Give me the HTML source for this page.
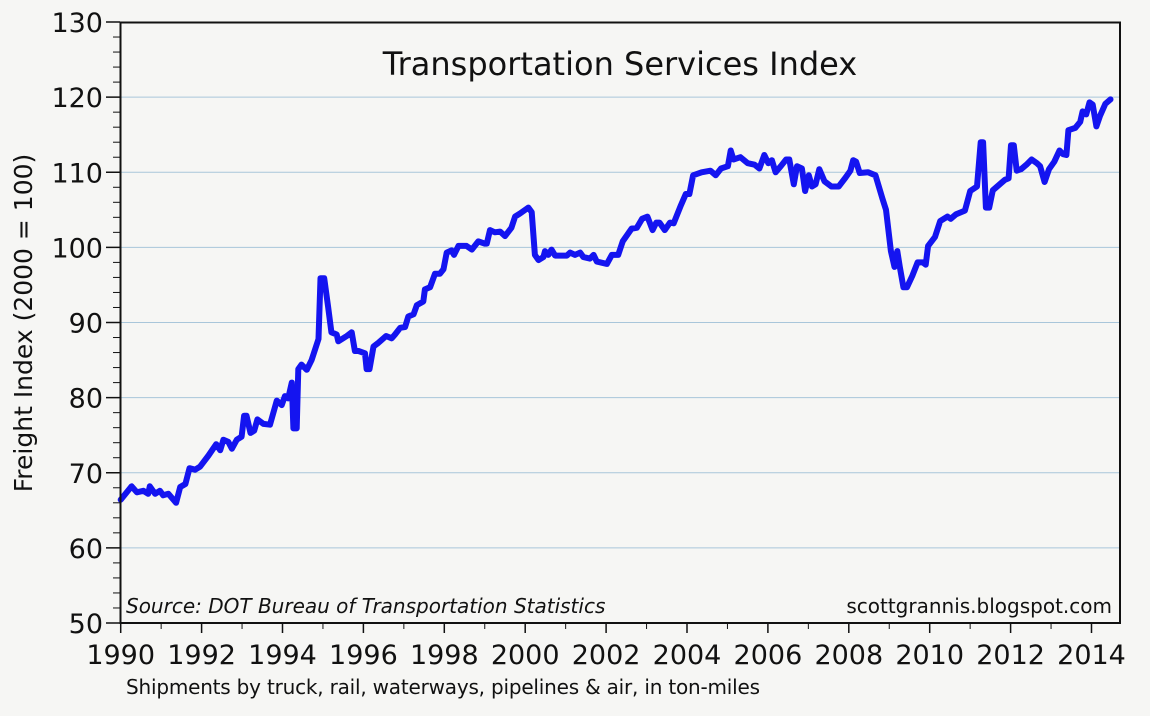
<!DOCTYPE html>
<html><head><meta charset="utf-8"><style>
html,body{margin:0;padding:0;background:#f6f6f4;}
svg{display:block;font-family:"DejaVu Sans","Liberation Sans",sans-serif;}
</style></head><body>
<svg id="chart" width="1150" height="716" viewBox="0 0 1150 716" xmlns="http://www.w3.org/2000/svg">
<rect x="0" y="0" width="1150" height="716" fill="#f6f6f4"/>
<g id="grid"></g>
<g id="axes"></g>
<path id="line" fill="none" stroke="#1414f0" stroke-width="6" stroke-linejoin="round" stroke-linecap="round"/>
<rect x="120.5" y="22.5" width="999.5" height="600.5" fill="none" stroke="#111" stroke-width="2"/>
<text x="620" y="75" font-size="32" text-anchor="middle" fill="#111">Transportation Services Index</text>
<text transform="translate(32,323) rotate(-90)" font-size="25" text-anchor="middle" fill="#111">Freight Index (2000 = 100)</text>
<text x="126" y="613" font-size="20" font-style="italic" fill="#111">Source: DOT Bureau of Transportation Statistics</text>
<text x="1112" y="613" font-size="20" text-anchor="end" fill="#111">scottgrannis.blogspot.com</text>
<text x="126" y="694" font-size="20" textLength="634" fill="#111">Shipments by truck, rail, waterways, pipelines &amp; air, in ton-miles</text>
</svg>
<script>
const years = [1990.0,1990.27,1990.4,1990.56,1990.68,1990.72,1990.85,1990.97,1991.05,1991.18,1991.37,1991.47,1991.6,1991.7,1991.84,1991.96,1992.17,1992.36,1992.46,1992.54,1992.66,1992.75,1992.87,1992.99,1993.05,1993.11,1993.21,1993.3,1993.38,1993.53,1993.69,1993.86,1993.98,1994.06,1994.14,1994.23,1994.27,1994.35,1994.39,1994.47,1994.6,1994.72,1994.89,1994.94,1995.03,1995.13,1995.21,1995.34,1995.38,1995.59,1995.71,1995.79,1995.88,1996.04,1996.08,1996.15,1996.25,1996.37,1996.56,1996.7,1996.78,1996.91,1997.03,1997.11,1997.24,1997.32,1997.48,1997.52,1997.65,1997.77,1997.89,1997.98,1998.06,1998.18,1998.24,1998.35,1998.55,1998.68,1998.84,1999.0,1999.05,1999.13,1999.25,1999.38,1999.5,1999.66,1999.75,1999.87,2000.08,2000.16,2000.24,2000.33,2000.45,2000.49,2000.57,2000.65,2000.74,2001.03,2001.11,2001.23,2001.36,2001.44,2001.6,2001.69,2001.77,2002.02,2002.14,2002.3,2002.41,2002.63,2002.76,2002.89,2003.02,2003.15,2003.24,2003.32,2003.45,2003.58,2003.67,2003.85,2003.97,2004.06,2004.15,2004.36,2004.58,2004.71,2004.84,2005.01,2005.08,2005.15,2005.32,2005.5,2005.67,2005.79,2005.91,2006.01,2006.1,2006.19,2006.32,2006.45,2006.53,2006.64,2006.72,2006.84,2006.92,2007.01,2007.09,2007.18,2007.27,2007.4,2007.57,2007.75,2007.92,2008.04,2008.11,2008.18,2008.27,2008.48,2008.66,2008.83,2008.92,2009.04,2009.13,2009.2,2009.26,2009.35,2009.44,2009.57,2009.7,2009.83,2009.9,2009.96,2010.13,2010.26,2010.44,2010.52,2010.65,2010.78,2010.87,2011.0,2011.17,2011.26,2011.32,2011.39,2011.47,2011.56,2011.73,2011.86,2011.95,2012.01,2012.08,2012.15,2012.26,2012.39,2012.52,2012.65,2012.73,2012.84,2012.95,2013.08,2013.21,2013.3,2013.38,2013.43,2013.6,2013.72,2013.78,2013.87,2013.95,2014.03,2014.12,2014.21,2014.34,2014.47];
const values = [66.4,68.2,67.4,67.6,67.2,68.2,67.2,67.6,67,67.2,66,68.1,68.5,70.6,70.4,70.8,72.3,73.8,73,74.4,74.1,73.2,74.4,74.8,77.6,77.6,75.3,75.6,77.1,76.5,76.4,79.6,79,80.2,79.9,82,75.9,75.9,83.8,84.4,83.7,85,87.8,95.9,95.9,92,88.7,88.4,87.5,88.2,88.7,86.2,86.2,85.9,83.8,83.8,86.8,87.3,88.2,87.9,88.4,89.3,89.4,90.8,91.1,92.3,92.8,94.4,94.7,96.5,96.5,97.1,99.3,99.6,99,100.2,100.2,99.7,100.8,100.5,100.5,102.3,102,102.1,101.5,102.6,104.1,104.5,105.3,104.7,99,98.3,98.7,99.5,99,99.7,98.9,98.9,99.3,99,99.3,98.7,98.5,99,98.1,97.8,99,99,100.8,102.5,102.6,103.8,104.1,102.3,103.3,103.3,102.3,103.3,103.2,105.6,107.1,107.1,109.6,110,110.2,109.6,110.5,110.8,112.9,111.7,112,111.2,111,110.5,112.3,111.2,111.6,110,110.8,111.7,111.7,108.4,110.8,110.5,107.5,109.6,108.1,108.4,110.4,108.8,108.1,108.1,109.3,110.2,111.6,111.4,109.9,110,109.6,106.5,105,99.5,97.4,99.5,97.4,94.7,94.7,96.2,98,98,97.7,100.2,101.4,103.5,104.1,103.8,104.4,104.7,104.9,107.5,108.1,114,114,105.3,105.3,107.6,108.4,109,109.2,113.6,113.6,110.2,110.4,111,111.7,111.2,110.8,108.7,110.4,111.4,112.9,112.4,112.3,115.6,115.9,116.7,118.1,117.7,119.3,119,116.1,117.5,119.1,119.7];
const yTicks = [50,60,70,80,90,100,110,120,130];
const xTicks = [1990,1992,1994,1996,1998,2000,2002,2004,2006,2008,2010,2012,2014];

const NS = "http://www.w3.org/2000/svg";
const X0 = 120.7, PXY = 40.45, Y0 = 623, PXV = 7.5125;
function xs(yr){ return X0 + (yr - 1990) * PXY; }
function ys(v){ return Y0 - (v - 50) * PXV; }
function mk(tag, attrs, parent){ const e = document.createElementNS(NS, tag); for (const k in attrs) e.setAttribute(k, attrs[k]); parent.appendChild(e); return e; }
const grid = document.getElementById('grid'), axes = document.getElementById('axes');

yTicks.forEach(function(v){
  if (v > 50 && v < 130) {
    const g = mk('line', {x1:121, x2:1119, y1:ys(v), y2:ys(v), stroke:'#a9c6da', 'stroke-width':1}, grid);
    
    
  }
  const t = mk('line', {x1:106, x2:120, y1:ys(v), y2:ys(v), stroke:'#111', 'stroke-width':1.5}, axes);
  
  
  const l = mk('text', {x:103, y:ys(v) + 10, 'font-size':27, 'text-anchor':'end', fill:'#111'}, axes);
  l.textContent = v;
  
  
  if (v < 130) {
    for (let m = 2; m < 10; m += 2) {
      const mt = mk('line', {x1:113, x2:120, y1:ys(v + m), y2:ys(v + m), stroke:'#111', 'stroke-width':1}, axes);
      
      
    }
  }
});
xTicks.forEach(function(yr){
  const t = mk('line', {x1:xs(yr), x2:xs(yr), y1:623, y2:633, stroke:'#111', 'stroke-width':1.5}, axes);
  
  
  if (xs(yr + 1) < 1118) {
    const mt = mk('line', {x1:xs(yr + 1), x2:xs(yr + 1), y1:623, y2:629, stroke:'#111', 'stroke-width':1}, axes);
    
    
  }
  const l = mk('text', {x:xs(yr), y:664, 'font-size':27, 'text-anchor':'middle', fill:'#111'}, axes);
  l.textContent = yr;
  
  
});
let d = '';
years.forEach(function(yr, i){ d += (i ? 'L' : 'M') + xs(yr).toFixed(1) + ',' + ys(values[i]).toFixed(1); });
document.getElementById('line').setAttribute('d', d);
</script>
</body></html>
